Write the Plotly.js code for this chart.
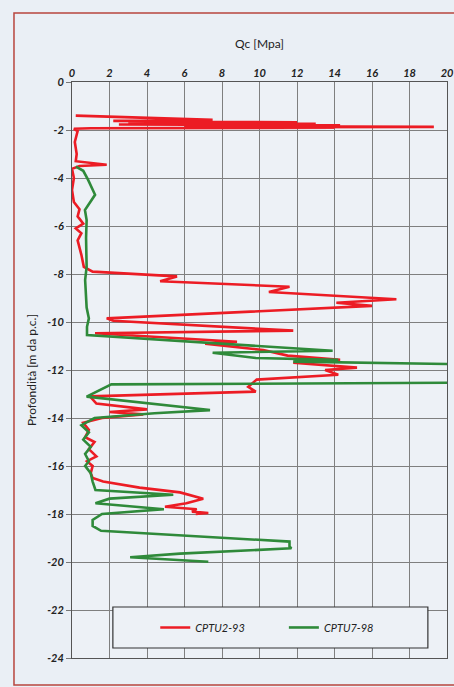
<!DOCTYPE html>
<html>
<head>
<meta charset="utf-8">
<script src="https://cdn.plot.ly/plotly-3.0.1.min.js"></script>
<style>
html,body{margin:0;padding:0;background:#eaeff5;}
#chart{width:454px;height:687px;}
</style>
</head>
<body>
<div id="chart"></div>
<script>
// CPTU2-93 (red)
const redQc = [0.2, 7.5, 2.2, 12, 3, 13, 2.5, 14.3, 6, 19.3, 10, 14, 1, 0.1, 0.3, 0.15, 0.25, 0.2, 1.85, 0.4, 0.0, 0.1, 0.0, 0.1, 0.4, 0.3, 0.6, 0.2, 0.5, 0.3, 0.5, 0.63, 1.1, 5.6, 4.7, 11.6, 10.5, 17.3, 14.1, 16.0, 1.85, 2.2, 11.8, 1.23, 8.8, 7.1, 10.2, 11.5, 14.3, 11.8, 15.2, 13.5, 14.2, 9.85, 9.4, 9.8, 0.96, 1.3, 4.0, 2.0, 3.8, 1.6, 0.6, 0.9, 0.7, 1.2, 0.9, 1.3, 0.8, 1.1, 1.0, 1.1, 1.66, 3.6, 5.76, 6.65, 7.0, 6.1, 4.96, 6.65, 6.4, 7.27, 6.6];
const redDepth = [-1.4, -1.58, -1.62, -1.68, -1.71, -1.74, -1.77, -1.8, -1.83, -1.87, -1.88, -1.9, -1.93, -1.95, -2.05, -2.5, -3.0, -3.3, -3.45, -3.5, -3.62, -4.0, -4.5, -5.0, -5.3, -5.6, -5.9, -6.1, -6.3, -6.6, -7.2, -7.7, -7.9, -8.1, -8.3, -8.53, -8.75, -9.05, -9.2, -9.33, -9.85, -9.95, -10.36, -10.47, -10.82, -10.9, -11.17, -11.4, -11.58, -11.7, -11.9, -12.0, -12.2, -12.4, -12.7, -12.9, -13.1, -13.4, -13.64, -13.75, -13.85, -14.0, -14.2, -14.5, -14.8, -15.0, -15.3, -15.6, -15.8, -16.0, -16.3, -16.5, -16.65, -16.9, -17.1, -17.28, -17.36, -17.55, -17.7, -17.8, -17.9, -17.96, -18.0];

// CPTU7-98 (green)
const greenQc = [0.21, 0.6, 0.86, 1.23, 0.69, 0.78, 0.75, 0.78, 0.7, 0.78, 0.9, 0.8, 0.8, 13.9, 7.5, 9.8, 14.2, 11.8, 21, 21, 2.1, 0.78, 7.36, 4.4, 1.2, 0.7, 0.5, 0.9, 0.6, 1.0, 0.7, 0.9, 0.7, 0.8, 1.0, 1.1, 1.25, 5.4, 2.0, 1.25, 4.9, 1.6, 1.1, 1.1, 1.55, 11.6, 11.6, 11.7, 5.76, 3.1, 7.27];
const greenDepth = [-3.53, -3.7, -4.08, -4.7, -5.33, -5.75, -6.5, -7.7, -8.25, -9.4, -9.85, -10.2, -10.54, -11.2, -11.28, -11.5, -11.58, -11.65, -11.76, -12.53, -12.6, -13.11, -13.67, -13.8, -14.0, -14.2, -14.3, -14.6, -14.9, -15.2, -15.5, -15.8, -16.0, -16.1, -16.3, -16.65, -17.0, -17.2, -17.36, -17.55, -17.8, -18.0, -18.25, -18.5, -18.7, -19.15, -19.35, -19.43, -19.65, -19.8, -19.99];

const xTicks = [0, 2, 4, 6, 8, 10, 12, 14, 16, 18, 20];
const yTicks = [0, -2, -4, -6, -8, -10, -12, -14, -16, -18, -20, -22, -24];

const seriesNames = ['CPTU2-93', 'CPTU7-98'];

const traces = [
  {x: redQc, y: redDepth, mode: 'lines', name: seriesNames[0], legend: 'legend',
   line: {color: '#ec1c24', width: 2.6}},
  {x: greenQc, y: greenDepth, mode: 'lines', name: seriesNames[1], legend: 'legend2',
   line: {color: '#2f8a3a', width: 2.6}}
];

const FONT = 'Lato, "Open Sans", sans-serif';
const tickFont = {family: FONT, size: 11, color: '#222', style: 'italic', weight: 'bold'};
const legFont = {family: FONT, size: 11, color: '#222', style: 'italic'};

const layout = {
  width: 454, height: 687,
  paper_bgcolor: '#eaeff5',
  plot_bgcolor: '#edf1f6',
  margin: {l: 72, r: 7, t: 82, b: 29},
  showlegend: true,
  font: {family: FONT, color: '#222'},
  xaxis: {
    side: 'top', range: [0, 20], tickvals: xTicks, ticktext: xTicks.map(String),
    showgrid: true, gridcolor: '#7f7f7f', gridwidth: 1,
    showline: true, linecolor: '#555', linewidth: 1, mirror: true,
    zeroline: false, ticks: '', tickfont: tickFont,
    title: {text: 'Qc [Mpa]', font: {family: FONT, size: 12, color: '#222'}, standoff: 14}
  },
  yaxis: {
    range: [-24, 0], tickvals: yTicks, ticktext: yTicks.map(String),
    showgrid: true, gridcolor: '#7f7f7f', gridwidth: 1,
    showline: true, linecolor: '#555', linewidth: 1, mirror: true,
    zeroline: false, ticks: 'outside', ticklen: 5, tickcolor: '#777', tickfont: tickFont,
    title: {text: 'Profondità [m da p.c.]', font: {family: FONT, size: 12, color: '#222'}, standoff: 8}
  },
  legend: {
    orientation: 'h', x: 0.222, y: 0.053, xanchor: 'left', yanchor: 'middle',
    bgcolor: 'rgba(0,0,0,0)', borderwidth: 0, itemwidth: 30, font: legFont
  },
  legend2: {
    orientation: 'h', x: 0.565, y: 0.053, xanchor: 'left', yanchor: 'middle',
    bgcolor: 'rgba(0,0,0,0)', borderwidth: 0, itemwidth: 30, font: legFont
  },
  shapes: [
    {type: 'rect', xref: 'paper', yref: 'paper', x0: 0.109, x1: 0.949, y0: 0.0174, y1: 0.0885,
     fillcolor: '#edf1f6', line: {color: '#333', width: 1.2}, layer: 'above'},
    {type: 'rect', xref: 'paper', yref: 'paper', x0: -0.1547, x1: 1.1, y0: -0.0469, y1: 1.1198,
     line: {color: '#b8453e', width: 1.5}, layer: 'below'}
  ]
};

Plotly.newPlot('chart', traces, layout, {displayModeBar: false, staticPlot: true});
</script>
</body>
</html>
